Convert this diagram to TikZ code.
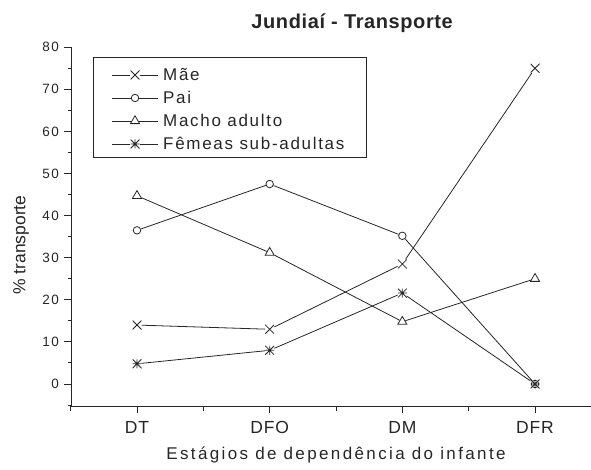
\documentclass[tikz,border=0pt]{standalone}
\usepackage{fontspec}
\setmainfont{Liberation Sans}
\newfontfamily\ttlfont[LetterSpace=3]{Liberation Sans}
\newfontfamily\lgdfont[LetterSpace=10]{Liberation Sans}
\newfontfamily\xlabfont[LetterSpace=14]{Liberation Sans}
\newfontfamily\xtickfont[LetterSpace=5]{Liberation Sans}
\newfontfamily\ytickfont[LetterSpace=10]{Liberation Sans}
\newfontfamily\ylabfont{Liberation Sans}
\usetikzlibrary{shapes.geometric}
\colorlet{ink}{black!85}
\begin{document}
\begin{tikzpicture}[x=1pt,y=1pt,
  ln/.style={draw=ink, line width=0.8pt},
  axis/.style={draw=ink, line width=1pt},
  mkx/.style={rectangle, inner sep=0pt, minimum size=9pt,
    path picture={\draw[ink,line width=0.8pt]
      (path picture bounding box.south west) -- (path picture bounding box.north east)
      (path picture bounding box.north west) -- (path picture bounding box.south east);}},
  mko/.style={circle, draw=ink, line width=0.8pt, inner sep=0pt, minimum size=7.5pt},
  mkt/.style={regular polygon, regular polygon sides=3, draw=ink, line width=0.8pt,
    inner sep=0pt, minimum size=10.5pt},
  mks/.style={rectangle, inner sep=0pt, minimum size=9pt,
    path picture={\draw[ink,line width=0.8pt]
      (path picture bounding box.south west) -- (path picture bounding box.north east)
      (path picture bounding box.north west) -- (path picture bounding box.south east)
      (path picture bounding box.north) -- (path picture bounding box.south)
      (path picture bounding box.west) -- (path picture bounding box.east);}},
  ytl/.style={anchor=east, inner sep=0pt, text=ink, font=\ytickfont\fontsize{13.5}{16}\selectfont},
  xtl/.style={anchor=base, inner sep=0pt, text=ink, font=\xtickfont\fontsize{17.5}{20}\selectfont},
  lgt/.style={anchor=base west, inner sep=0pt, text=ink, font=\lgdfont\fontsize{17}{20}\selectfont},
]
\useasboundingbox (0,0) rectangle (591,469);

% title
\node[anchor=base east, inner sep=0pt, text=ink, font=\ttlfont\bfseries\fontsize{20}{23}\selectfont]
  (title) at (453,440) {Jundiaí - Transporte};

% axes
\draw[axis] (71,63) -- (71,421.8);
\draw[axis] (71,63) -- (591,63);
\foreach \v in {0,10,...,80} {
  \draw[axis] (64,85+4.21*\v) -- (71,85+4.21*\v);
  \node[ytl] (yt\v) at (59,85+4.21*\v) {\v};
}
\foreach \v in {-5,5,15,...,75} {
  \draw[axis] (67.5,85+4.21*\v) -- (71,85+4.21*\v);
}
\foreach \i/\t in {1/DT,2/DFO,3/DM,4/DFR} {
  \draw[axis] (4.33+132.67*\i,63) -- (4.33+132.67*\i,56);
  \node[xtl] (xt\i) at (4.33+132.67*\i,36) {\t};
}
\foreach \i in {0.5,1.5,2.5,3.5} {
  \draw[axis] (4.33+132.67*\i,63) -- (4.33+132.67*\i,58.5);
}

% axis titles
\node[anchor=base, inner sep=0pt, text=ink, font=\xlabfont\fontsize{17}{20}\selectfont]
  (xlab) at (336,10) {Estágios de dependência do infante};
\node[rotate=90, inner sep=0pt, text=ink, font=\ylabfont\fontsize{17.5}{20}\selectfont]
  (ylab) at (21,224) {\% transporte};

% data
\begin{scope}[xshift=4.33pt, yshift=85pt, x=132.67pt, y=4.21pt]
  \node[mkx] (m1) at (1,14) {};
  \node[mkx] (m2) at (2,13) {};
  \node[mkx] (m3) at (3,28.5) {};
  \node[mkx] (m4) at (4,75) {};
  \node[mko] (p1) at (1,36.5) {};
  \node[mko] (p2) at (2,47.5) {};
  \node[mko] (p3) at (3,35.2) {};
  \node[mko] (p4) at (4,0) {};
  \node[mkt] (a1) at (1,44.7) {};
  \node[mkt] (a2) at (2,31.2) {};
  \node[mkt] (a3) at (3,14.8) {};
  \node[mkt] (a4) at (4,25) {};
  \node[mks] (f1) at (1,4.8) {};
  \node[mks] (f2) at (2,8) {};
  \node[mks] (f3) at (3,21.6) {};
  \node[mks] (f4) at (4,0) {};
\end{scope}
\foreach \s in {m,p,a,f} {
  \draw[ln] (\s1) -- (\s2);
  \draw[ln] (\s2) -- (\s3);
  \draw[ln] (\s3) -- (\s4);
}

% legend
\draw[draw=ink, line width=0.8pt] (93,412) rectangle (366,312);
\foreach \s/\y/\t in {x/394/Mãe, o/371/Pai, t/348/Macho adulto, s/325/Fêmeas sub-adultas} {
  \coordinate (la\s) at (112,\y);
  \coordinate (lb\s) at (158,\y);
  \node[mk\s] (lm\s) at (135,\y) {};
  \draw[ln] (la\s) -- (lm\s);
  \draw[ln] (lm\s) -- (lb\s);
  \node[lgt] (lt\s) at (163,\y-6) {\t};
}
\end{tikzpicture}
\end{document}
